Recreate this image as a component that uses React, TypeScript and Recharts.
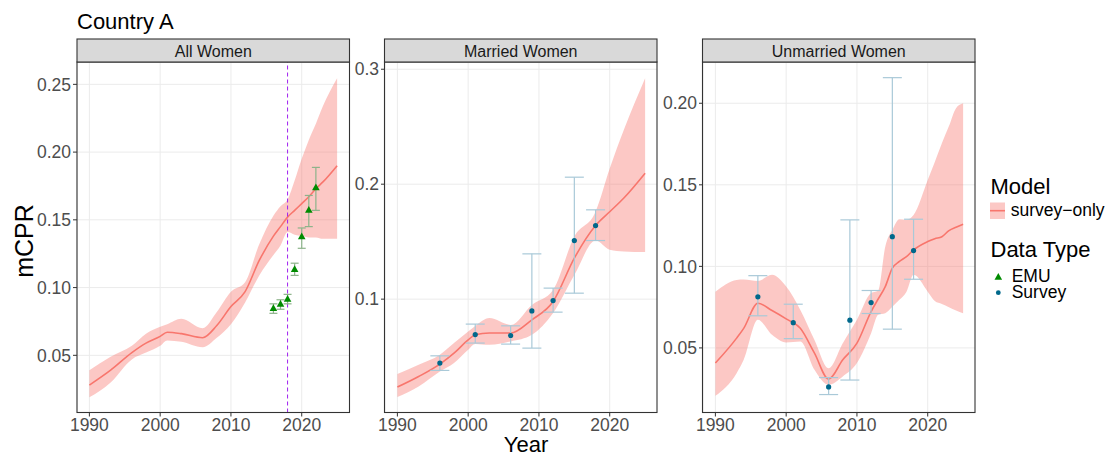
import React from 'react';
import { ComposedChart, Area, Line, Scatter, ErrorBar, XAxis, YAxis, CartesianGrid, ReferenceLine } from 'recharts';

// ---- data ----
const X_TICKS = [1990, 2000, 2010, 2020];
const X_DOMAIN: [number, number] = [1988.25, 2026.75];

// All Women
const AW_YEARS = [1990, 1993, 1996, 1998, 2000, 2001, 2003, 2006, 2008, 2010, 2012, 2014, 2016, 2017, 2018, 2019, 2020, 2021, 2022, 2023, 2025];
const AW_LO = [0.019, 0.030, 0.047, 0.052, 0.057, 0.061, 0.060, 0.056, 0.063, 0.073, 0.089, 0.109, 0.124, 0.131, 0.141, 0.139, 0.138, 0.137, 0.137, 0.136, 0.136];
const AW_MED = [0.028, 0.039, 0.052, 0.059, 0.064, 0.067, 0.066, 0.063, 0.072, 0.086, 0.097, 0.120, 0.138, 0.145, 0.152, 0.157, 0.162, 0.167, 0.173, 0.178, 0.190];
const AW_HI = [0.039, 0.049, 0.057, 0.066, 0.071, 0.073, 0.077, 0.070, 0.082, 0.097, 0.104, 0.132, 0.153, 0.160, 0.165, 0.179, 0.195, 0.209, 0.221, 0.234, 0.2545];
const EMU_YEARS = [2016, 2017, 2018, 2019, 2020, 2021, 2022];
const EMU_VAL = [0.0845, 0.0876, 0.0913, 0.1133, 0.1374, 0.157, 0.1736];
const EMU_LO = [0.081, 0.084, 0.088, 0.109, 0.129, 0.145, 0.157];
const EMU_HI = [0.088, 0.091, 0.095, 0.118, 0.144, 0.168, 0.1887];
const EMU_START_YEAR = 2018;

// Married Women
const MW_YEARS = [1990, 1993, 1996, 1998, 2000, 2001, 2003, 2006, 2009, 2012, 2015, 2018, 2020, 2022, 2025];
const MW_LO = [0.0148, 0.024, 0.037, 0.0444, 0.056, 0.061, 0.0603, 0.0632, 0.069, 0.088, 0.121, 0.151, 0.143, 0.1415, 0.141];
const MW_MED = [0.0235, 0.0327, 0.0435, 0.053, 0.0646, 0.069, 0.0705, 0.0705, 0.082, 0.098, 0.1357, 0.164, 0.176, 0.188, 0.2096];
const MW_HI = [0.0348, 0.0429, 0.0516, 0.0618, 0.0718, 0.0766, 0.0835, 0.0776, 0.095, 0.108, 0.1545, 0.176, 0.2136, 0.2473, 0.2922];
const MW_SURV_YEARS = [1996, 2001, 2006, 2009, 2012, 2015, 2018];
const MW_SURV_VAL = [0.0444, 0.0692, 0.0684, 0.0898, 0.0988, 0.151, 0.164];
const MW_SURV_LO = [0.038, 0.0618, 0.0609, 0.0574, 0.0887, 0.1052, 0.151];
const MW_SURV_HI = [0.0507, 0.0783, 0.0768, 0.1394, 0.1096, 0.2061, 0.1777];

// Unmarried Women
const UW_YEARS = [1990, 1993, 1994, 1996, 1998, 2000, 2002, 2004, 2006, 2008, 2010, 2012, 2013, 2014, 2015, 2016, 2017, 2018, 2020, 2021, 2022, 2023, 2024, 2025];
const UW_LO = [0.0206, 0.0345, 0.0427, 0.0672, 0.058, 0.0533, 0.0539, 0.0366, 0.0274, 0.0325, 0.0407, 0.059, 0.0703, 0.0713, 0.0753, 0.0795, 0.0845, 0.0948, 0.0845, 0.0788, 0.077, 0.075, 0.073, 0.0713];
const UW_MED = [0.0407, 0.056, 0.062, 0.0774, 0.0729, 0.0678, 0.0621, 0.0468, 0.0309, 0.0427, 0.0529, 0.0723, 0.080, 0.0876, 0.0989, 0.103, 0.106, 0.1101, 0.1152, 0.117, 0.1182, 0.1219, 0.124, 0.1258];
const UW_HI = [0.0845, 0.0917, 0.092, 0.0911, 0.0948, 0.0876, 0.0733, 0.0549, 0.0376, 0.0529, 0.0672, 0.0836, 0.085, 0.1121, 0.1223, 0.1289, 0.1285, 0.1315, 0.153, 0.164, 0.1755, 0.186, 0.197, 0.200];
const UW_SURV_YEARS = [1996, 2001, 2006, 2009, 2012, 2015, 2018];
const UW_SURV_VAL = [0.0813, 0.0655, 0.0261, 0.067, 0.0778, 0.1182, 0.1097];
const UW_SURV_LO = [0.0697, 0.0557, 0.0214, 0.0303, 0.0711, 0.0615, 0.0921];
const UW_SURV_HI = [0.0943, 0.0768, 0.0318, 0.1285, 0.0852, 0.2157, 0.1289];

// ---- styling ----
const FONT = '"Liberation Sans", Arial, Helvetica, sans-serif';
const RED = '#F8766D';
const GREEN = '#008B00';
const BLUE = '#00688B';
const PLOT_TOP = 62;
const PLOT_H = 350.5;
const PLOT_W = 272.5;
const AXIS_W = 70;
const AXIS_H = 42;
const PAD_TOP = 12; // room so the top tick label isn't clipped
const TICK = { fill: '#4d4d4d', fontSize: 17.5 };

const band = (years: number[], lo: number[], med: number[], hi: number[]) =>
  years.map((year, i) => ({ year, lo: lo[i], med: med[i], hi: hi[i] }));

const points = (years: number[], val: number[], lo: number[], hi: number[]) =>
  years.map((year, i) => ({ year, val: val[i], err: [val[i] - lo[i], hi[i] - val[i]] }));

const Triangle = (p: any) => (
  <polygon
    points={`${p.cx},${p.cy - 4.3} ${p.cx - 3.8},${p.cy + 2.4} ${p.cx + 3.8},${p.cy + 2.4}`}
    fill={GREEN}
  />
);
const Dot = (p: any) => <circle cx={p.cx} cy={p.cy} r={2.6} fill={BLUE} />;

type PanelProps = {
  left: number;
  label: string;
  rows: any[];
  pts: any[];
  emu?: boolean;
  domain: [number, number];
  ticks: number[];
  digits: number;
  vline?: number;
};

function Panel({ left, label, rows, pts, emu, domain, ticks, digits, vline }: PanelProps) {
  return (
    <>
      <div style={{ position: 'absolute', left: left - AXIS_W, top: PLOT_TOP - PAD_TOP }}>
        <ComposedChart
          width={AXIS_W + PLOT_W}
          height={PAD_TOP + PLOT_H + AXIS_H}
          data={rows}
          margin={{ top: PAD_TOP, right: 0, bottom: 0, left: 0 }}
        >
          <CartesianGrid stroke="#ebebeb" strokeWidth={1} />
          <XAxis
            type="number"
            dataKey="year"
            domain={X_DOMAIN}
            ticks={X_TICKS}
            allowDataOverflow
            interval={0}
            height={AXIS_H}
            axisLine={false}
            tickLine={{ stroke: '#333333' }}
            tickSize={4}
            tick={TICK}
          />
          <YAxis
            type="number"
            domain={domain}
            ticks={ticks}
            allowDataOverflow
            interval={0}
            width={AXIS_W}
            axisLine={false}
            tickLine={{ stroke: '#333333' }}
            tickSize={4}
            tick={TICK}
            tickFormatter={(v: number) => v.toFixed(digits)}
          />
          <Area
            type="monotone"
            dataKey={(d: any) => [d.lo, d.hi]}
            stroke="none"
            fill={RED}
            fillOpacity={0.4}
            isAnimationActive={false}
          />
          <Line
            type="monotone"
            dataKey="med"
            stroke={RED}
            strokeWidth={1.6}
            dot={false}
            isAnimationActive={false}
          />
          {vline !== undefined && (
            <ReferenceLine x={vline} stroke="#A020F0" strokeWidth={1} strokeDasharray="4 3" />
          )}
          <Scatter data={pts} dataKey="val" shape={emu ? Triangle : Dot} isAnimationActive={false}>
            <ErrorBar
              dataKey="err"
              direction="y"
              width={emu ? 4 : 9.5}
              stroke={emu ? '#8db38a' : '#a9c9d8'}
              strokeWidth={1.2}
              isAnimationActive={false}
            />
          </Scatter>
        </ComposedChart>
      </div>
      <svg
        width={1109}
        height={454}
        style={{ position: 'absolute', left: 0, top: 0, pointerEvents: 'none' }}
      >
        <rect x={left} y={PLOT_TOP} width={PLOT_W} height={PLOT_H} fill="none" stroke="#333333" strokeWidth={1.1} />
        <rect x={left} y={39} width={PLOT_W} height={PLOT_TOP - 39} fill="#d9d9d9" stroke="#333333" strokeWidth={1.1} />
        <text x={left + PLOT_W / 2} y={56.5} textAnchor="middle" fontSize={16} fill="#1a1a1a">
          {label}
        </text>
      </svg>
    </>
  );
}

export default function App() {
  return (
    <div
      style={{
        position: 'absolute',
        left: 0,
        top: 0,
        width: 1109,
        height: 454,
        background: '#ffffff',
        fontFamily: FONT,
        overflow: 'hidden',
      }}
    >
      <Panel
        left={77}
        label="All Women"
        rows={band(AW_YEARS, AW_LO, AW_MED, AW_HI)}
        pts={points(EMU_YEARS, EMU_VAL, EMU_LO, EMU_HI)}
        emu
        domain={[0.0078, 0.2665]}
        ticks={[0.05, 0.1, 0.15, 0.2, 0.25]}
        digits={2}
        vline={EMU_START_YEAR}
      />
      <Panel
        left={384.5}
        label="Married Women"
        rows={band(MW_YEARS, MW_LO, MW_MED, MW_HI)}
        pts={points(MW_SURV_YEARS, MW_SURV_VAL, MW_SURV_LO, MW_SURV_HI)}
        domain={[0.0014, 0.3063]}
        ticks={[0.1, 0.2, 0.3]}
        digits={1}
      />
      <Panel
        left={702.5}
        label="Unmarried Women"
        rows={band(UW_YEARS, UW_LO, UW_MED, UW_HI)}
        pts={points(UW_SURV_YEARS, UW_SURV_VAL, UW_SURV_LO, UW_SURV_HI)}
        domain={[0.0104, 0.2253]}
        ticks={[0.05, 0.1, 0.15, 0.2]}
        digits={2}
      />
      <svg
        width={1109}
        height={454}
        style={{ position: 'absolute', left: 0, top: 0, pointerEvents: 'none' }}
      >
        <text x={77} y={29} fontSize={22} fill="#000000">Country A</text>
        <text x={526} y={452} fontSize={22} textAnchor="middle" fill="#000000">Year</text>
        <text x={33} y={241} fontSize={25} textAnchor="middle" fill="#000000" transform="rotate(-90 33 241)">
          mCPR
        </text>
        {/* legend */}
        <text x={990.5} y={194.3} fontSize={22} fill="#000000">Model</text>
        <rect x={990} y={202.5} width={15} height={16.5} fill={RED} fillOpacity={0.4} />
        <line x1={990} x2={1005} y1={210.7} y2={210.7} stroke={RED} strokeWidth={1.6} />
        <text x={1010.7} y={215.5} fontSize={17.5} fill="#000000">survey−only</text>
        <text x={990.5} y={256.5} fontSize={22} fill="#000000">Data Type</text>
        <Triangle cx={998.3} cy={277.3} />
        <text x={1011.7} y={282} fontSize={17.5} fill="#000000">EMU</text>
        <circle cx={998.3} cy={292.7} r={2.4} fill={BLUE} />
        <text x={1011.7} y={297.5} fontSize={17.5} fill="#000000">Survey</text>
      </svg>
    </div>
  );
}
